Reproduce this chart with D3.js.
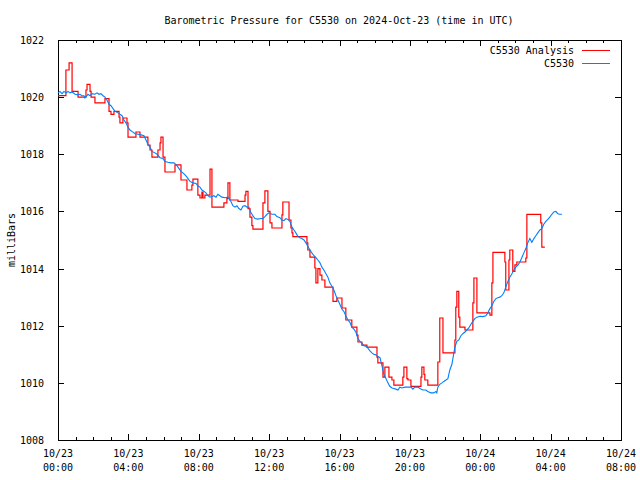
<!DOCTYPE html>
<html><head><meta charset="utf-8">
<script src="https://cdn.jsdelivr.net/npm/d3@7"></script>
<style>
body{margin:0;background:#fff;}
svg text{font-family:"DejaVu Sans Mono",monospace;font-size:10px;fill:#000;}
</style></head>
<body><svg id="c" width="640" height="480"></svg>
<script>
const title = "Barometric Pressure for C5530 on 2024-Oct-23 (time in UTC)";
const yLabel = "milliBars";
const seriesNames = ["C5530 Analysis", "C5530"];
const seriesColors = ["#ff0000", "#0080ff"];
const yTicks = [1008, 1010, 1012, 1014, 1016, 1018, 1020, 1022];
const xMajorHours = [0, 4, 8, 12, 16, 20, 24, 28, 32];
const xTickDates = ["10/23","10/23","10/23","10/23","10/23","10/23","10/24","10/24","10/24"];
const xTickTimes = ["00:00","04:00","08:00","12:00","16:00","20:00","00:00","04:00","08:00"];
// hours since 2024-10-23 00:00 UTC, millibars (step values)
const analysis = [
[0.00,1020.05],[0.45,1020.95],[0.63,1021.2],[0.80,1020.2],[1.14,1020.0],[1.59,1020.25],[1.65,1020.45],[1.82,1020.2],[1.88,1020.0],[2.10,1019.8],
[2.67,1019.95],[2.90,1019.5],[3.01,1019.4],[3.18,1019.5],[3.47,1019.3],[3.52,1019.1],[3.69,1019.27],[3.92,1019.1],[3.98,1018.6],[4.43,1018.78],
[4.66,1018.6],[5.11,1018.32],[5.23,1018.15],[5.34,1017.9],[5.68,1018.15],[5.80,1018.4],[5.85,1018.6],[5.97,1017.9],[6.08,1017.38],[6.65,1017.63],
[6.99,1017.1],[7.33,1016.75],[7.61,1016.92],[7.67,1017.13],[7.95,1016.57],[8.07,1016.47],[8.18,1016.68],[8.24,1016.47],[8.35,1016.57],[8.64,1017.48],
[8.75,1016.15],[9.43,1016.3],[9.60,1016.45],[9.66,1017.0],[9.77,1016.4],[10.23,1016.35],[10.63,1016.57],[10.68,1016.7],[10.80,1016.1],[10.91,1015.8],
[11.02,1015.5],[11.08,1015.38],[11.65,1016.3],[11.76,1016.72],[11.93,1016.0],[12.05,1015.6],[12.16,1015.42],[12.73,1015.88],[12.78,1016.33],[13.13,1015.7],
[13.24,1015.42],[13.30,1015.25],[13.35,1015.12],[14.15,1014.9],[14.20,1014.65],[14.32,1014.4],[14.60,1014.02],[14.66,1013.5],[14.77,1014.0],[14.89,1013.77],
[15.00,1013.6],[15.17,1013.35],[15.63,1012.85],[15.85,1012.97],[16.14,1012.62],[16.36,1012.2],[16.70,1011.95],[16.99,1011.67],[17.05,1011.43],[17.27,1011.32],
[17.56,1011.25],[18.13,1010.9],[18.18,1010.7],[18.47,1010.2],[18.58,1010.55],[18.81,1010.2],[18.98,1010.1],[19.09,1009.92],[19.60,1010.2],[19.66,1010.55],
[19.83,1010.15],[19.89,1010.1],[20.06,1009.88],[20.63,1010.2],[20.68,1010.55],[20.80,1010.3],[20.85,1010.1],[21.02,1009.92],[21.59,1010.73],[21.70,1012.27],
[21.88,1011.05],[22.56,1011.5],[22.61,1012.65],[22.67,1013.2],[22.78,1012.3],[22.84,1011.95],[23.13,1011.85],[23.58,1012.8],[23.64,1013.67],[23.81,1012.45],
[24.55,1012.37],[24.66,1013.5],[24.72,1014.57],[25.40,1014.23],[25.45,1013.25],[25.63,1014.3],[25.68,1014.65],[25.85,1013.9],[25.97,1014.13],[26.08,1014.23],
[26.59,1014.37],[26.65,1015.9],[27.44,1015.6],[27.50,1014.75],[27.67,1014.75]
];
// hours since 2024-10-23 00:00 UTC, millibars
const station = [
[0.00,1020.15],[0.11,1020.2],[0.23,1020.12],[0.34,1020.2],[0.45,1020.15],[0.57,1020.2],[0.68,1020.15],[0.80,1020.18],[0.97,1020.1],[1.14,1020.08],
[1.25,1020.1],[1.36,1020.05],[1.48,1020.05],[1.53,1019.97],[1.65,1020.05],[1.70,1020.1],[1.82,1020.05],[1.93,1020.12],[2.10,1020.1],[2.22,1020.15],
[2.33,1020.1],[2.44,1020.12],[2.56,1020.05],[2.67,1020.0],[2.78,1019.9],[2.90,1019.75],[3.01,1019.7],[3.13,1019.6],[3.24,1019.5],[3.41,1019.45],
[3.52,1019.4],[3.64,1019.35],[3.75,1019.2],[3.86,1019.1],[3.98,1018.95],[4.09,1018.85],[4.20,1018.8],[4.38,1018.72],[4.55,1018.7],[4.72,1018.68],
[4.89,1018.65],[5.00,1018.5],[5.11,1018.35],[5.23,1018.25],[5.34,1018.1],[5.51,1018.05],[5.63,1018.0],[5.80,1017.88],[5.97,1017.85],[6.08,1017.75],
[6.25,1017.72],[6.42,1017.7],[6.59,1017.7],[6.76,1017.6],[6.88,1017.5],[6.99,1017.4],[7.10,1017.35],[7.22,1017.28],[7.33,1017.2],[7.50,1017.05],
[7.67,1017.0],[7.84,1016.98],[7.95,1016.9],[8.07,1016.85],[8.18,1016.75],[8.30,1016.7],[8.41,1016.65],[8.52,1016.55],[8.64,1016.5],[8.75,1016.52],
[8.86,1016.55],[8.98,1016.5],[9.09,1016.6],[9.20,1016.55],[9.32,1016.5],[9.49,1016.48],[9.66,1016.5],[9.83,1016.35],[9.94,1016.2],[10.06,1016.15],
[10.17,1016.2],[10.28,1016.1],[10.40,1016.05],[10.51,1016.18],[10.63,1016.2],[10.74,1016.15],[10.85,1016.15],[10.97,1015.95],[11.08,1015.85],[11.19,1015.75],
[11.36,1015.73],[11.53,1015.75],[11.65,1015.75],[11.76,1015.82],[11.88,1015.9],[11.99,1015.95],[12.16,1015.9],[12.33,1015.9],[12.44,1015.82],[12.61,1015.78],
[12.73,1015.7],[12.84,1015.68],[12.95,1015.75],[13.07,1015.72],[13.18,1015.65],[13.30,1015.45],[13.41,1015.35],[13.52,1015.25],[13.64,1015.12],[13.75,1015.08],
[13.86,1015.05],[13.98,1015.0],[14.09,1014.9],[14.20,1014.78],[14.32,1014.65],[14.43,1014.55],[14.55,1014.45],[14.66,1014.38],[14.77,1014.3],[14.89,1014.2],
[15.00,1014.05],[15.11,1013.95],[15.23,1013.82],[15.34,1013.7],[15.45,1013.5],[15.57,1013.38],[15.68,1013.25],[15.80,1013.05],[15.91,1012.9],[16.02,1012.75],
[16.14,1012.58],[16.25,1012.5],[16.36,1012.35],[16.48,1012.2],[16.59,1012.12],[16.70,1011.95],[16.82,1011.88],[16.93,1011.78],[17.05,1011.55],[17.16,1011.45],
[17.27,1011.4],[17.39,1011.3],[17.50,1011.28],[17.61,1011.22],[17.73,1011.12],[17.84,1011.05],[17.95,1011.0],[18.07,1010.98],[18.18,1010.92],[18.30,1010.88],
[18.41,1010.6],[18.52,1010.3],[18.64,1010.15],[18.75,1010.0],[18.86,1009.88],[18.98,1009.82],[19.09,1009.8],[19.20,1009.78],[19.32,1009.75],[19.43,1009.85],
[19.55,1009.82],[19.72,1009.85],[19.89,1009.85],[20.06,1009.85],[20.17,1009.78],[20.28,1009.85],[20.45,1009.85],[20.57,1009.8],[20.74,1009.75],[20.91,1009.75],
[21.02,1009.7],[21.19,1009.65],[21.36,1009.65],[21.48,1009.7],[21.53,1009.65],[21.59,1009.85],[21.70,1009.95],[21.82,1010.0],[21.93,1010.05],[22.05,1010.1],
[22.16,1010.15],[22.27,1010.45],[22.39,1010.65],[22.50,1011.05],[22.56,1011.25],[22.67,1011.45],[22.78,1011.5],[22.90,1011.65],[23.01,1011.72],[23.13,1011.78],
[23.24,1011.85],[23.35,1011.92],[23.47,1012.05],[23.58,1012.15],[23.69,1012.25],[23.81,1012.3],[23.98,1012.33],[24.15,1012.32],[24.32,1012.35],[24.43,1012.45],
[24.55,1012.6],[24.66,1012.7],[24.77,1012.85],[24.89,1012.95],[25.00,1012.98],[25.11,1013.0],[25.23,1013.05],[25.34,1013.15],[25.45,1013.35],[25.57,1013.55],
[25.68,1013.7],[25.80,1013.82],[25.91,1013.95],[26.02,1014.05],[26.14,1014.12],[26.25,1014.22],[26.36,1014.38],[26.48,1014.55],[26.59,1014.7],[26.70,1014.9],
[26.82,1015.05],[26.93,1014.92],[27.05,1015.05],[27.16,1015.15],[27.27,1015.25],[27.39,1015.35],[27.50,1015.4],[27.61,1015.55],[27.73,1015.65],[27.84,1015.72],
[27.95,1015.8],[28.07,1015.9],[28.18,1015.98],[28.30,1016.0],[28.41,1015.92],[28.52,1015.9],[28.64,1015.9]
];

const svg = d3.select("#c");
const L = 58, R = 621, T = 40, B = 440;
const x = d3.scaleLinear().domain([0, 32]).range([L, R]);
const y = d3.scaleLinear().domain([1008, 1022]).range([B, T]);

// minor x ticks (hourly), bottom & top
const minor = d3.range(0, 33);
svg.append("g").attr("transform",`translate(0,${B})`)
  .call(d3.axisBottom(x).tickValues(minor).tickSize(-3).tickFormat(""))
  .call(g=>g.select(".domain").remove());
svg.append("g").attr("transform",`translate(0,${T})`)
  .call(d3.axisTop(x).tickValues(minor).tickSize(-3).tickFormat(""))
  .call(g=>g.select(".domain").remove());
// major x ticks
svg.append("g").attr("transform",`translate(0,${B})`)
  .call(d3.axisBottom(x).tickValues(xMajorHours).tickSize(-6).tickFormat(""))
  .call(g=>g.select(".domain").remove());
svg.append("g").attr("transform",`translate(0,${T})`)
  .call(d3.axisTop(x).tickValues(xMajorHours).tickSize(-6).tickFormat(""))
  .call(g=>g.select(".domain").remove());
// x labels (two lines)
xMajorHours.forEach((h,i)=>{
  const t = svg.append("text").attr("x", x(h)).attr("text-anchor","middle");
  t.append("tspan").attr("x", x(h)).attr("y", 457).text(xTickDates[i]);
  t.append("tspan").attr("x", x(h)).attr("y", 471).text(xTickTimes[i]);
});
// y ticks
svg.append("g").attr("transform",`translate(${L},0)`)
  .call(d3.axisLeft(y).tickValues(yTicks).tickSize(-6).tickPadding(14).tickFormat(d3.format("d")))
  .call(g=>g.select(".domain").remove())
  .call(g=>g.selectAll("text").attr("dy","0.35em").style("font-family","DejaVu Sans Mono").style("font-size","10px"));
svg.append("g").attr("transform",`translate(${R},0)`)
  .call(d3.axisRight(y).tickValues(yTicks).tickSize(-6).tickFormat(""))
  .call(g=>g.select(".domain").remove());
svg.selectAll(".tick line").attr("stroke","#000").attr("shape-rendering","crispEdges");

// frame
svg.append("rect").attr("x",L+0.5).attr("y",T+0.5).attr("width",R-L).attr("height",B-T)
  .attr("fill","none").attr("stroke","#000").attr("stroke-width",1).attr("shape-rendering","crispEdges");

// series
const stepLine = d3.line().x(d=>x(d[0])).y(d=>y(d[1])).curve(d3.curveStepAfter);
const plainLine = d3.line().x(d=>x(d[0])).y(d=>y(d[1]));
svg.append("path").datum(analysis).attr("d",stepLine)
  .attr("fill","none").attr("stroke",seriesColors[0]).attr("stroke-width",1.2);
svg.append("path").datum(station).attr("d",plainLine)
  .attr("fill","none").attr("stroke",seriesColors[1]).attr("stroke-width",1.1);

// title & y label
svg.append("text").attr("x",339).attr("y",24).attr("text-anchor","middle").text(title);
svg.append("text").attr("transform","translate(15,240) rotate(-90)").attr("text-anchor","middle").text(yLabel);

// legend
seriesNames.forEach((n,i)=>{
  const yy = 50 + i*13;
  svg.append("text").attr("x",574).attr("y",yy+4).attr("text-anchor","end").text(n);
  svg.append("line").attr("x1",582).attr("x2",610).attr("y1",yy+0.5).attr("y2",yy+0.5)
    .attr("stroke",seriesColors[i]).attr("stroke-width",1);
});
</script></body></html>
